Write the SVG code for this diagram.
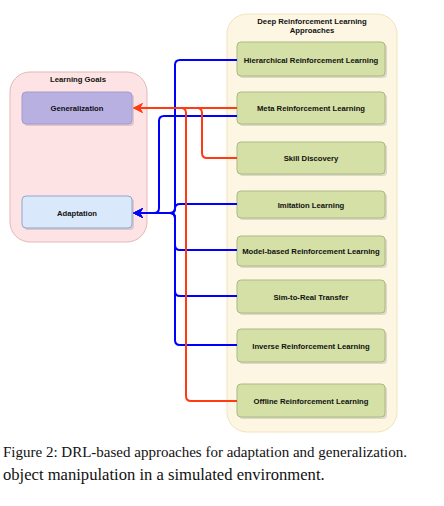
<svg xmlns="http://www.w3.org/2000/svg" width="444" height="506" viewBox="0 0 444 506">
<style>
.cont-title{font-family:"Liberation Sans",Arial,sans-serif;font-weight:bold;font-size:7.7px;fill:#111;text-anchor:middle}
.lbl{font-family:"Liberation Sans",Arial,sans-serif;font-weight:bold;font-size:7.7px;fill:#111;text-anchor:middle;dominant-baseline:central}
.green{fill:#d5e0a6;stroke:#a9b985;stroke-width:1}
.shadow{fill:#000;opacity:0.12}
.blue{fill:none;stroke:#0000ff;stroke-width:2}
.red{fill:none;stroke:#ff3b14;stroke-width:2}
.cap{font-family:"Liberation Serif","Times New Roman",serif;fill:#111}
</style>
<defs>
<marker id="ab" viewBox="0 0 10 10" refX="9" refY="5" markerWidth="10" markerHeight="10" markerUnits="userSpaceOnUse" orient="auto">
<path d="M0,0 L10,5 L0,10 L3,5 Z" fill="#0000ff"/>
</marker>
<marker id="ar" viewBox="0 0 10 10" refX="9" refY="5" markerWidth="10" markerHeight="10" markerUnits="userSpaceOnUse" orient="auto">
<path d="M0,0 L10,5 L0,10 L3,5 Z" fill="#ff3b14"/>
</marker>
</defs>
<rect width="444" height="506" fill="#fff"/>

<g id="drl-approaches">
<rect x="227" y="14" width="170" height="418" rx="20" fill="#fdf6e3" stroke="#f1e3b9" stroke-width="1"/>
<text class="cont-title" x="312" y="24">Deep Reinforcement Learning</text>
<text class="cont-title" x="312" y="33">Approaches</text>
</g>

<g id="learning-goals">
<rect x="10" y="72" width="137" height="170" rx="20" fill="#fde3e3" stroke="#e2b9b9" stroke-width="1"/>
<text class="cont-title" x="78" y="82">Learning Goals</text>
</g>

<g id="generalization">
<rect class="shadow" x="24" y="94" width="110" height="32" rx="4"/>
<rect x="22" y="92" width="110" height="32" rx="4" fill="#b8b0e0" stroke="#a59bd0"/>
<text class="lbl" x="77" y="108">Generalization</text>
</g>
<g id="adaptation">
<rect class="shadow" x="24" y="198" width="110" height="32" rx="4"/>
<rect x="22" y="196" width="110" height="32" rx="4" fill="#dae8fc" stroke="#8ea8cc"/>
<text class="lbl" x="77" y="213">Adaptation</text>
</g>

<g id="hierarchical">
<rect class="shadow" x="239" y="44" width="148" height="34" rx="4"/>
<rect class="green" x="237" y="42" width="148" height="34" rx="4"/>
<text class="lbl" x="311" y="60">Hierarchical Reinforcement Learning</text>
</g>
<g id="meta">
<rect class="shadow" x="239" y="94" width="148" height="32" rx="4"/>
<rect class="green" x="237" y="92" width="148" height="32" rx="4"/>
<text class="lbl" x="311" y="108">Meta Reinforcement Learning</text>
</g>
<g id="skill">
<rect class="shadow" x="239" y="144" width="148" height="32" rx="4"/>
<rect class="green" x="237" y="142" width="148" height="32" rx="4"/>
<text class="lbl" x="311" y="158">Skill Discovery</text>
</g>
<g id="imitation">
<rect class="shadow" x="239" y="193" width="148" height="27" rx="4"/>
<rect class="green" x="237" y="191" width="148" height="27" rx="4"/>
<text class="lbl" x="311" y="205">Imitation Learning</text>
</g>
<g id="model-based">
<rect class="shadow" x="239" y="238" width="148" height="30" rx="4"/>
<rect class="green" x="237" y="236" width="148" height="30" rx="4"/>
<text class="lbl" x="311" y="251">Model-based Reinforcement Learning</text>
</g>
<g id="sim-to-real">
<rect class="shadow" x="239" y="282" width="148" height="33" rx="4"/>
<rect class="green" x="237" y="280" width="148" height="33" rx="4"/>
<text class="lbl" x="311" y="297">Sim-to-Real Transfer</text>
</g>
<g id="inverse">
<rect class="shadow" x="239" y="331" width="148" height="33" rx="4"/>
<rect class="green" x="237" y="329" width="148" height="33" rx="4"/>
<text class="lbl" x="311" y="346">Inverse Reinforcement Learning</text>
</g>
<g id="offline">
<rect class="shadow" x="239" y="386" width="148" height="33" rx="4"/>
<rect class="green" x="237" y="384" width="148" height="33" rx="4"/>
<text class="lbl" x="311" y="401">Offline Reinforcement Learning</text>
</g>

<g id="connectors">
<path class="red" d="M237,108 H134" marker-end="url(#ar)"/>
<path class="blue" d="M237,60 H180 Q175,60 175,65 V208 Q175,213 170,213 H134" marker-end="url(#ab)"/>
<path class="blue" d="M237,116 H164 Q159,116 159,121 V208 Q159,213 154,213 H134" marker-end="url(#ab)"/>
<path class="blue" d="M237,204 H180 Q175,204 175,208.5 Q175,213 170,213 H134" marker-end="url(#ab)"/>
<path class="blue" d="M237,250 H180 Q175,250 175,245 V218 Q175,213 170,213 H134" marker-end="url(#ab)"/>
<path class="blue" d="M237,296 H180 Q175,296 175,291 V218 Q175,213 170,213 H134" marker-end="url(#ab)"/>
<path class="blue" d="M237,345 H180 Q175,345 175,340 V218 Q175,213 170,213 H134" marker-end="url(#ab)"/>
<path class="red" d="M237,158 H207 Q202,158 202,153 V113 Q202,108 197,108 H134" marker-end="url(#ar)"/>
<path class="red" d="M237,401 H191 Q186,401 186,396 V113 Q186,108 181,108 H134" marker-end="url(#ar)"/>
</g>

<text class="cap" x="3" y="457" font-size="15">Figure 2: DRL-based approaches for adaptation and generalization.</text>
<text class="cap" x="3" y="480" font-size="16.6">object manipulation in a simulated environment.</text>
</svg>
